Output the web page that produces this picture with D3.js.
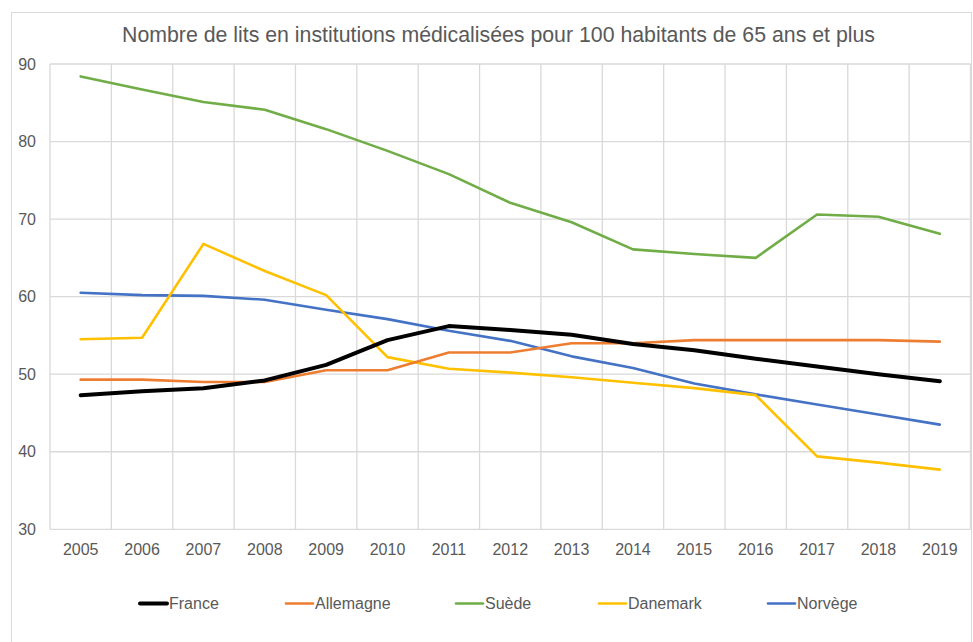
<!DOCTYPE html>
<html>
<head>
<meta charset="utf-8">
<script src="https://cdn.jsdelivr.net/npm/d3@7"></script>
<style>
  body { margin: 0; background: #fff; }
  text { font-family: "Liberation Sans", Arial, sans-serif; fill: #595959; }
</style>
</head>
<body>
<svg id="chart" width="973" height="642"></svg>
<script>
var years = ["2005", "2006", "2007", "2008", "2009", "2010", "2011", "2012", "2013", "2014", "2015", "2016", "2017", "2018", "2019"];
var yTicks = [30, 40, 50, 60, 70, 80, 90];
var seriesNames = ["France", "Allemagne", "Suède", "Danemark", "Norvège"];
var seriesColors = ["#000000", "#ED7D31", "#70AD47", "#FFC000", "#4472C4"];

var france = [47.3, 47.8, 48.2, 49.2, 51.2, 54.4, 56.2, 55.7, 55.1, 53.9, 53.1, 52.0, 51.0, 50.0, 49.1];
var allemagne = [49.3, 49.3, 49.0, 49.0, 50.5, 50.5, 52.8, 52.8, 54.0, 54.0, 54.4, 54.4, 54.4, 54.4, 54.2];
var suede = [88.4, 86.7, 85.1, 84.1, 81.6, 78.8, 75.8, 72.1, 69.6, 66.1, 65.5, 65.0, 70.6, 70.3, 68.1];
var danemark = [54.5, 54.7, 66.8, 63.3, 60.2, 52.2, 50.7, 50.2, 49.6, 48.9, 48.2, 47.3, 39.4, 38.6, 37.7];
var norvege = [60.5, 60.2, 60.1, 59.6, 58.3, 57.1, 55.6, 54.3, 52.3, 50.8, 48.8, 47.4, 46.1, 44.8, 43.5];

var allSeries = [france, allemagne, suede, danemark, norvege];

var svg = d3.select("#chart");
var plotLeft = 50, plotRight = 970.5, plotTop = 64, plotBottom = 529.3;

// outer chart border (Excel style frame)
svg.append("rect")
  .attr("x", 11.5).attr("y", 12.5)
  .attr("width", 960).attr("height", 660)
  .attr("fill", "none").attr("stroke", "#d9d9d9");

svg.append("text")
  .attr("x", 498.5).attr("y", 42)
  .attr("text-anchor", "middle")
  .style("font-size", "21.3px")
  .text("Nombre de lits en institutions médicalisées pour 100 habitants de 65 ans et plus");

var x = d3.scaleBand().domain(years).range([plotLeft, plotRight]).padding(0);
var y = d3.scaleLinear().domain([30, 90]).range([plotBottom, plotTop]);

// horizontal grid
svg.append("g").selectAll("line")
  .data(yTicks).enter().append("line")
  .attr("x1", plotLeft).attr("x2", plotRight)
  .attr("y1", function (d) { return y(d); })
  .attr("y2", function (d) { return y(d); })
  .attr("stroke", "#d9d9d9").attr("stroke-width", 1.3);

// vertical grid between categories
var bounds = years.map(function (d) { return x(d); }).concat([plotRight]);
svg.append("g").selectAll("line")
  .data(bounds).enter().append("line")
  .attr("x1", function (d) { return d; }).attr("x2", function (d) { return d; })
  .attr("y1", plotTop).attr("y2", plotBottom)
  .attr("stroke", "#d9d9d9").attr("stroke-width", 1.3);

svg.append("g").selectAll("text")
  .data(yTicks).enter().append("text")
  .attr("x", 36).attr("y", function (d) { return y(d); })
  .attr("dy", "0.35em")
  .attr("text-anchor", "end")
  .style("font-size", "16px")
  .text(function (d) { return d; });

svg.append("g").selectAll("text")
  .data(years).enter().append("text")
  .attr("x", function (d) { return x(d) + x.bandwidth() / 2; })
  .attr("y", 555)
  .attr("text-anchor", "middle")
  .style("font-size", "16px")
  .text(function (d) { return d; });

var line = d3.line()
  .x(function (d, i) { return x(years[i]) + x.bandwidth() / 2; })
  .y(function (d) { return y(d); });

// draw back to front so France sits on top like the reference
var order = [4, 3, 2, 1, 0];
order.forEach(function (k) {
  svg.append("path")
    .datum(allSeries[k])
    .attr("d", line)
    .attr("fill", "none")
    .attr("stroke", seriesColors[k])
    .attr("stroke-width", k === 0 ? 4 : 2.6)
    .attr("stroke-linejoin", "round")
    .attr("stroke-linecap", "round");
});

var legendX = [140, 286, 456, 599, 768];
var legend = svg.append("g").selectAll("g")
  .data(seriesNames).enter().append("g")
  .attr("transform", function (d, i) { return "translate(" + legendX[i] + ",603.5)"; });
legend.append("line")
  .attr("x1", 0).attr("x2", 27).attr("y1", 0).attr("y2", 0)
  .attr("stroke", function (d, i) { return seriesColors[i]; })
  .attr("stroke-width", function (d, i) { return i === 0 ? 4 : 2.6; })
  .attr("stroke-linecap", "round");
legend.append("text")
  .attr("x", 29).attr("dy", "0.35em")
  .style("font-size", "16px")
  .text(function (d) { return d; });
</script>
</body>
</html>
